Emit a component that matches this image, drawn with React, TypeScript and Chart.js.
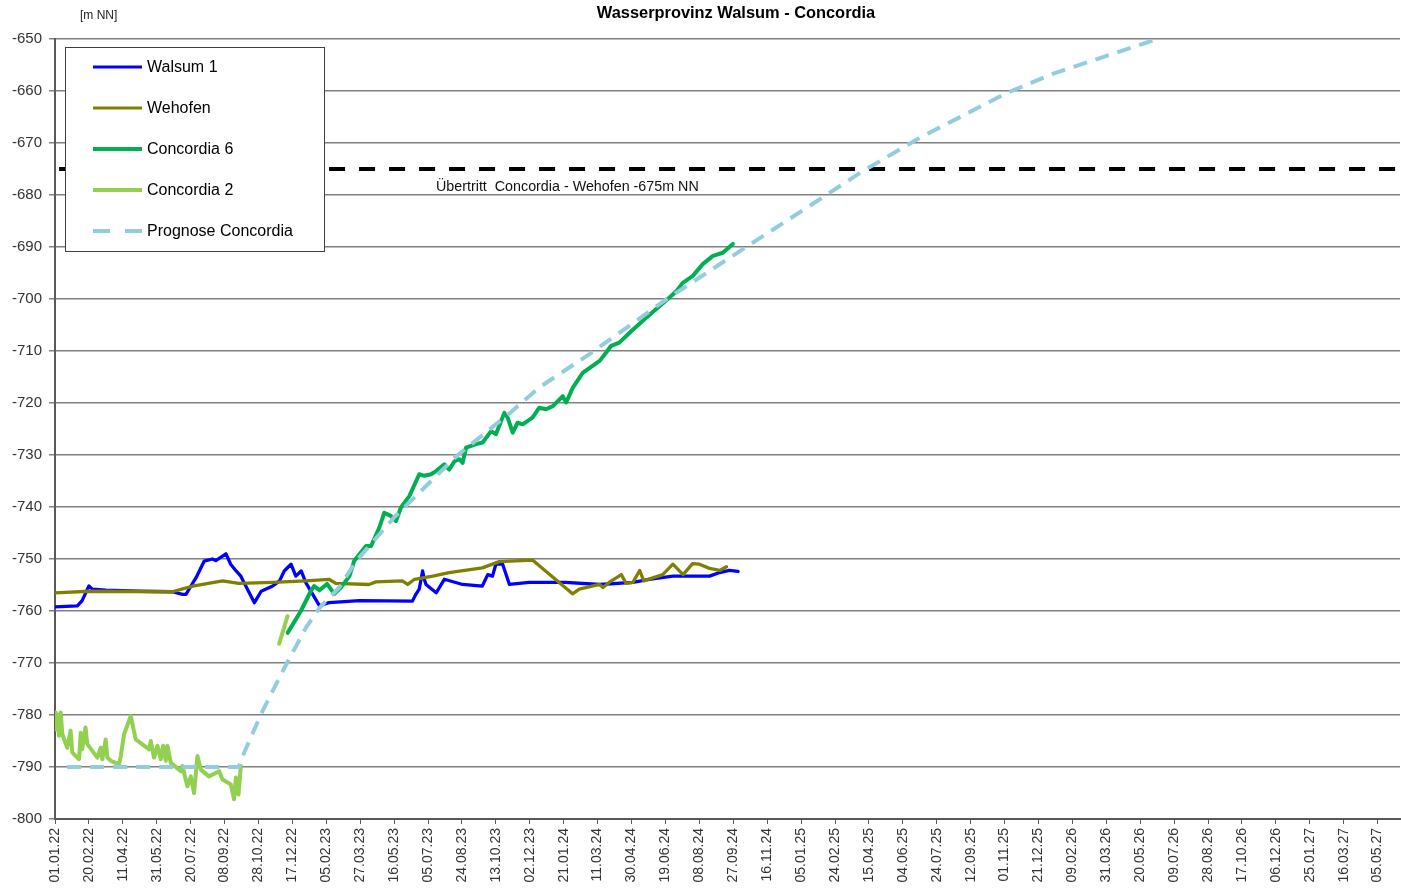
import React, { useEffect, useRef } from 'react';
import { Chart, registerables } from 'chart.js';

Chart.register(...registerables);

const FONT = "'Liberation Sans', Arial, Helvetica, sans-serif";

const chartTitle = 'Wasserprovinz Walsum - Concordia';
const unitLabel = '[m NN]';
const thresholdLabel = 'Übertritt  Concordia - Wehofen -675m NN';

// x values: days since 01.01.22
const xMin = 0;
const xMax = 1983;
const xStep = 50;
const yMin = -800;
const yMax = -650;
const yStep = 10;

const walsumDays = [0, 33, 40, 50, 55, 75, 124, 173, 188, 193, 208, 220, 232, 237, 252, 259, 267, 274, 279, 294, 304, 321, 331, 338, 348, 355, 363, 370, 390, 404, 449, 527, 532, 537, 542, 544.5, 547, 562, 574, 601, 630, 638, 645, 650, 660, 670, 699, 753, 803, 852, 876, 911, 965, 980, 994, 1007];
const walsumValues = [-759.2, -759, -758, -755.2, -755.8, -756, -756.2, -756.3, -756.8, -756.8, -753.6, -750.4, -750, -750.3, -749, -751, -752.3, -753.3, -754.6, -758.4, -756.2, -755.2, -754.2, -752.3, -751, -753.3, -752.3, -754.6, -759, -758.4, -758, -758.1, -756.8, -755.8, -752.3, -753.9, -754.9, -756.5, -753.9, -754.9, -755.2, -753, -753.3, -751, -751, -754.9, -754.5, -754.5, -754.9, -754.5, -753.9, -753.3, -753.3, -752.6, -752.2, -752.4];

const wehofenDays = [0, 50, 173, 203, 247, 271, 321, 370, 404, 414, 463, 473, 512, 520, 530, 557, 581, 630, 655, 704, 763, 773, 803, 808, 817, 835, 842, 852, 862, 868, 896, 911, 926, 940, 950, 965, 980, 990];
const wehofenValues = [-756.5, -756.2, -756.3, -755.2, -754.2, -754.7, -754.5, -754.2, -753.9, -754.7, -754.9, -754.4, -754.2, -754.9, -753.9, -753.3, -752.6, -751.7, -750.5, -750.2, -756.7, -755.8, -754.9, -755.5, -754.5, -753, -754.7, -754.5, -752.2, -754.2, -753, -751, -753, -750.9, -751, -751.8, -752.2, -751.5];

const concordia6Days = [343, 362.5, 377, 382, 390, 401, 412, 421.5, 434, 441, 458.5, 466, 478, 485.5, 495, 502.7, 510, 522.4, 537, 544.5, 554.4, 561.8, 574, 581.4, 589, 596, 601, 606, 620.8, 630.5, 643, 650, 662.5, 667.4, 674.8, 682, 689.5, 704, 714, 724, 734, 748.6, 753.6, 763.3, 778, 803, 812.6, 820, 832, 849.5, 871.6, 906, 916, 925.6, 940, 955, 970, 984.6, 999.4];
const concordia6Values = [-764.2, -760, -756.2, -755.2, -756, -754.8, -756.7, -755.5, -753.3, -750.4, -747.5, -747.5, -744, -741.1, -741.7, -742.7, -740.1, -737.9, -733.7, -734, -733.7, -733.1, -731.8, -732.8, -731.2, -730.8, -731.5, -728.6, -727.9, -727.6, -725.4, -726, -721.9, -722.8, -725.7, -723.8, -724.1, -722.8, -720.9, -721.2, -720.6, -718.7, -719.9, -717.1, -714.2, -711.9, -710.3, -709, -708.4, -706.2, -703.6, -699.7, -698.5, -696.9, -695.6, -693.3, -691.7, -691.1, -689.4];

const concordia2Days = [0, 1, 3.4, 6, 8.4, 10.8, 18, 23, 25.5, 30.5, 35.4, 38, 40, 45, 47.7, 62.4, 67.4, 69.8, 74.8, 77.2, 82.2, 94.4, 97, 101.8, 111.7, 119, 138.7, 141.2, 146, 151, 156, 159.4, 163.3, 165.7, 170.7, 185.5, 187.8, 195.2, 200.2, 205, 210, 215, 227, 242, 247, 259, 264, 266.7, 270.5, 274, 300, 330.5, 342.8];
const concordia2Values = [-779.5, -782.8, -779.9, -784, -779.5, -783.7, -786.3, -783, -787.2, -787.9, -788.5, -783.4, -786.6, -782.4, -785.6, -788.2, -786.3, -788.5, -784.7, -788.2, -788.8, -789.5, -787.9, -783.7, -780.2, -784.7, -786.6, -785, -788.2, -785.9, -788.5, -785.9, -788.8, -785.9, -789.2, -790.8, -789.8, -793.7, -791.8, -795, -787.9, -790.5, -791.8, -790.8, -792.4, -793.3, -796.2, -792, -795.3, -789.8, null, -766.3, -761];

const prognoseDays = [18, 271, 279, 305, 338, 370, 390, 419, 444, 500, 592, 670, 714, 788, 902, 999, 1039, 1123, 1191, 1275, 1403, 1471, 1625];
const prognoseValues = [-790, -790, -787.2, -779.5, -771, -763.2, -759.4, -755.5, -750.4, -742, -730.2, -722, -717, -710.6, -700, -691.7, -688.3, -681.2, -675.4, -669, -660.4, -656.7, -650];

const thresholdDays = [6, 1983];
const thresholdValues = [-675, -675];

const COLORS = {
  walsum: '#0000FF',
  wehofen: '#808000',
  concordia6: '#00B050',
  concordia2: '#92D050',
  prognose: '#92CDDC',
  threshold: '#000000',
};

const legendItems = [
  { label: 'Walsum 1', color: COLORS.walsum, width: 3, dash: [] as number[] },
  { label: 'Wehofen', color: COLORS.wehofen, width: 3, dash: [] as number[] },
  { label: 'Concordia 6', color: COLORS.concordia6, width: 4, dash: [] as number[] },
  { label: 'Concordia 2', color: COLORS.concordia2, width: 4, dash: [] as number[] },
  { label: 'Prognose Concordia', color: COLORS.prognose, width: 4, dash: [17, 15] },
];

const toPoints = (days: number[], values: (number | null)[]) =>
  days.map((x, i) => ({ x, y: values[i] === undefined ? null : values[i] }));

const fmtDate = (day: number) => {
  const d = new Date(Date.UTC(2022, 0, 1) + Math.round(day) * 86400000);
  const dd = String(d.getUTCDate()).padStart(2, '0');
  const mm = String(d.getUTCMonth() + 1).padStart(2, '0');
  const yy = String(d.getUTCFullYear() % 100).padStart(2, '0');
  return `${dd}.${mm}.${yy}`;
};

const overlayPlugin = {
  id: 'overlayTexts',
  afterDraw(chart: any) {
    const ctx = chart.ctx as CanvasRenderingContext2D;
    ctx.save();
    ctx.fillStyle = '#000';
    ctx.textBaseline = 'middle';
    // title
    ctx.font = `bold 16.4px ${FONT}`;
    ctx.textAlign = 'center';
    ctx.fillText(chartTitle, 736, 13);
    // unit
    ctx.font = `12px ${FONT}`;
    ctx.textAlign = 'left';
    ctx.fillStyle = '#222';
    ctx.fillText(unitLabel, 80, 16);
    // threshold annotation
    const ty = chart.scales.y.getPixelForValue(-675);
    ctx.font = `14.3px ${FONT}`;
    ctx.fillStyle = '#111';
    ctx.fillText(thresholdLabel, 436, ty + 18);
    // legend box
    ctx.fillStyle = '#fff';
    ctx.fillRect(65, 47, 259, 204);
    ctx.strokeStyle = '#404040';
    ctx.lineWidth = 1;
    ctx.setLineDash([]);
    ctx.strokeRect(65.5, 47.5, 259, 204);
    legendItems.forEach((it, i) => {
      const y = 67 + i * 41;
      ctx.beginPath();
      ctx.strokeStyle = it.color;
      ctx.lineWidth = it.width;
      ctx.setLineDash(it.dash);
      ctx.moveTo(93, y);
      ctx.lineTo(142, y);
      ctx.stroke();
      ctx.setLineDash([]);
      ctx.fillStyle = '#000';
      ctx.font = `16px ${FONT}`;
      ctx.textAlign = 'left';
      ctx.fillText(it.label, 147, y + 1);
    });
    ctx.restore();
  },
};

export default function App() {
  const canvasRef = useRef<HTMLCanvasElement | null>(null);

  useEffect(() => {
    if (!canvasRef.current) return;
    Chart.defaults.font.family = FONT;
    const lineBase = { pointRadius: 0, pointHoverRadius: 0, tension: 0, fill: false, spanGaps: false, borderCapStyle: 'round' as const, borderJoinStyle: 'round' as const };
    const chart = new Chart(canvasRef.current, {
      type: 'line',
      data: {
        datasets: [
          { ...lineBase, label: 'Prognose Concordia', data: toPoints(prognoseDays, prognoseValues), borderColor: COLORS.prognose, borderWidth: 4, borderDash: [14, 9], borderCapStyle: 'butt' as const, order: 0 },
          { ...lineBase, label: 'Grenze', data: toPoints(thresholdDays, thresholdValues), borderColor: COLORS.threshold, borderWidth: 4, borderDash: [16, 14], borderCapStyle: 'butt' as const, order: 1 },
          { ...lineBase, label: 'Concordia 6', data: toPoints(concordia6Days, concordia6Values), borderColor: COLORS.concordia6, borderWidth: 4, order: 2 },
          { ...lineBase, label: 'Concordia 2', data: toPoints(concordia2Days, concordia2Values), borderColor: COLORS.concordia2, borderWidth: 4, order: 3 },
          { ...lineBase, label: 'Wehofen', data: toPoints(wehofenDays, wehofenValues), borderColor: COLORS.wehofen, borderWidth: 3.3, order: 4 },
          { ...lineBase, label: 'Walsum 1', data: toPoints(walsumDays, walsumValues), borderColor: COLORS.walsum, borderWidth: 3.3, order: 5 },
        ],
      },
      options: {
        animation: false,
        responsive: false,
        devicePixelRatio: 1,
        parsing: true,
        layout: { padding: { top: 39, right: 1, left: 0, bottom: 0 } },
        plugins: {
          legend: { display: false },
          title: { display: false },
          tooltip: { enabled: false },
        },
        scales: {
          x: {
            type: 'linear',
            min: xMin,
            max: xMax,
            afterFit: (s: any) => { s.height = 69; },
            ticks: {
              stepSize: xStep,
              includeBounds: false,
              autoSkip: false,
              maxRotation: 90,
              minRotation: 90,
              padding: 4,
              color: '#333',
              font: { size: 14, family: FONT },
              callback: (v: any) => fmtDate(Number(v)),
            },
            grid: { drawOnChartArea: false, drawTicks: true, tickLength: 5, color: '#595959', lineWidth: 1 },
            border: { color: '#595959', width: 2 },
          },
          y: {
            min: yMin,
            max: yMax,
            afterFit: (s: any) => { s.width = 55; },
            ticks: {
              stepSize: yStep,
              padding: 7,
              color: '#333',
              font: { size: 15, family: FONT },
            },
            grid: { color: '#808080', lineWidth: 1.5, tickLength: 6, drawTicks: true },
            border: { color: '#595959', width: 2 },
          },
        },
      },
      plugins: [overlayPlugin],
    } as any);
    return () => chart.destroy();
  }, []);

  return (
    <div style={{ position: 'absolute', left: 0, top: 0, width: 1401, height: 888, background: '#fff' }}>
      <canvas ref={canvasRef} width={1401} height={888} style={{ width: 1401, height: 888, display: 'block' }} />
    </div>
  );
}
